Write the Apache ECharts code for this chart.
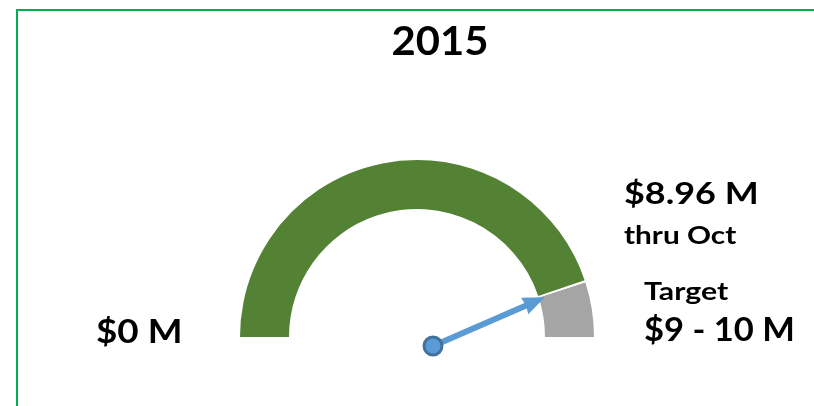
<!DOCTYPE html>
<html>
<head>
<meta charset="utf-8">
<script src="https://cdn.jsdelivr.net/npm/echarts@6/dist/echarts.min.js"></script>
<style>
  html, body { margin: 0; padding: 0; background: #fff; }
  #main { width: 814px; height: 406px; }
</style>
</head>
<body>
<div id="main"></div>
<script>
  // data ($ millions)
  var year = '2015';
  var gaugeMin = 0;
  var gaugeMax = 10;
  var actual = 8.96;
  var targetRange = [9, 10];
  var actualLabel = '$8.96 M';
  var actualSub = 'thru Oct';
  var targetTitle = 'Target';
  var targetLabel = '$9 - 10 M';
  var minLabel = '$0 M';

  var GREEN = '#548235', GREY = '#A5A5A5', BLUE = '#5B9BD5';
  var font = 'Lato, "Open Sans", sans-serif';

  var span = gaugeMax - gaugeMin;
  var bands = [
    [(actual - gaugeMin) / span, GREEN],
    [(targetRange[0] - gaugeMin) / span, '#ffffff'],
    [(targetRange[1] - gaugeMin) / span, GREY]
  ];

  var chart = echarts.init(document.getElementById('main'));

  // text block, stretched a little to look like the wide Calibri of the original
  function txt(text, x, y, size, sx, align) {
    return {
      type: 'text', x: x, y: y, scaleX: sx || 1,
      style: {
        text: text, font: 'bold ' + size + 'px ' + font, fill: '#000',
        textAlign: align || 'left', textVerticalAlign: 'top'
      }
    };
  }

  chart.setOption({
    animation: false,
    backgroundColor: '#fff',
    graphic: [
      { type: 'rect', shape: { x: 17, y: 10, width: 900, height: 500 },
        style: { fill: 'none', stroke: '#00B050', lineWidth: 2 } },
      txt(year, 440, 21, 41, 1.02, 'center'),
      txt(actualLabel, 624, 178, 31, 1.16),
      txt(actualSub, 624, 224, 24, 1.24),
      txt(targetTitle, 644, 280, 24, 1.26),
      txt(targetLabel, 644, 315, 32, 1.08),
      txt(minLabel, 96, 317, 32, 1.15)
    ],
    series: [
      {
        // the dial
        type: 'gauge',
        center: [417, 337],
        radius: 177,
        min: gaugeMin, max: gaugeMax,
        startAngle: 180, endAngle: 0,
        axisLine: { lineStyle: { width: 49, color: bands } },
        splitLine: { show: false },
        axisTick: { show: false },
        axisLabel: { show: false },
        pointer: { show: false },
        anchor: { show: false },
        title: { show: false },
        detail: { show: false },
        data: [{ value: actual }]
      },
      {
        // the arrow, pivoting just below the dial's centre
        type: 'gauge',
        center: [433, 346],
        radius: 122,
        min: gaugeMin, max: gaugeMax,
        startAngle: 180, endAngle: 5.4,
        axisLine: { show: false },
        splitLine: { show: false },
        axisTick: { show: false },
        axisLabel: { show: false },
        pointer: {
          show: true,
          icon: 'path://M9,0 L18,22 L12,21 L12,122 L6,122 L6,21 L0,22 Z',
          length: 122,
          width: 18,
          itemStyle: { color: BLUE }
        },
        anchor: {
          show: true, showAbove: true, size: 18,
          itemStyle: { color: BLUE, borderColor: '#41719C', borderWidth: 3 }
        },
        title: { show: false },
        detail: { show: false },
        data: [{ value: actual }]
      }
    ]
  });
</script>
</body>
</html>
